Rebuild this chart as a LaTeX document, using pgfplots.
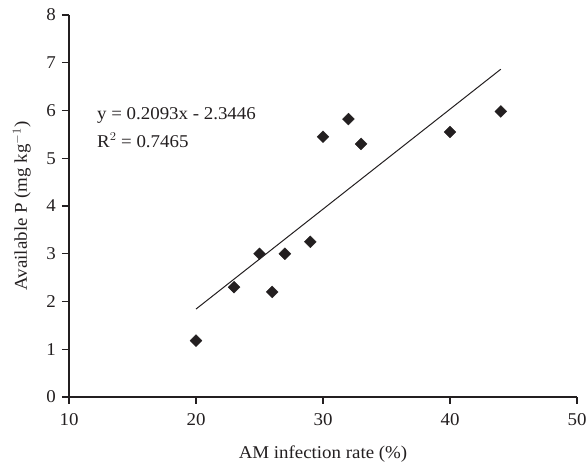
\documentclass[border=0pt]{standalone}
\usepackage{pgfplots}
\pgfplotsset{compat=1.18}
\usepackage{fontspec}
\setmainfont{Liberation Serif}
\definecolor{ink}{HTML}{231F20}
\newcommand{\lab}{\fontsize{18}{21}\selectfont}
\begin{document}
\begin{tikzpicture}
\begin{axis}[
  scale only axis,
  width=508pt, height=382pt,
  xmin=10, xmax=50, ymin=0, ymax=8,
  axis lines=left,
  axis line style={ink, line width=1.3pt, -},
  xtick={10,20,30,40,50},
  ytick={0,1,2,3,4,5,6,7,8},
  tick style={ink, line width=1.3pt},
  tick align=outside,
  major tick length=7pt,
  tick label style={font=\lab, text=ink, inner sep=0pt, xscale=1.05},
  xticklabel shift=9pt,
  yticklabel shift=6pt,
  /pgf/number format/assume math mode=true,
  xlabel={AM infection rate (\%)},
  ylabel={Available P (mg kg$^{-1}$)},
  every axis x label/.style={at={(axis description cs:0.5,-0.1623)}, anchor=base, font=\lab, text=ink, inner sep=0pt, xscale=1.05},
  every axis y label/.style={at={(axis description cs:-0.0827,0.5)}, rotate=90, xscale=1.05, anchor=base, font=\lab, text=ink, inner sep=0pt},
  clip=false,
]
\addplot[only marks, mark=square*, mark size=4.2pt, mark options={rotate=45, fill=ink, draw=ink}] coordinates {
(20,1.18) (23,2.3) (25,3.0) (26,2.2) (27,3.0) (29,3.25) (30,5.45) (32,5.82) (33,5.3) (40,5.55) (44,5.98)
};
\addplot[ink, line width=1pt] coordinates {(20,1.8414) (44,6.8646)};
\node[anchor=base west, font=\lab, text=ink, inner sep=0pt, xscale=1.05] at (axis cs:12.2,5.82) {y = 0.2093x - 2.3446};
\node[anchor=base west, font=\lab, text=ink, inner sep=0pt, xscale=1.05] at (axis cs:12.2,5.235) {R$^{2}$ = 0.7465};
\end{axis}
\pgfresetboundingbox
\path[use as bounding box] ([shift={(-69pt,-69pt)}]current axis.south west) rectangle ([shift={(9pt,15pt)}]current axis.north east);
\end{tikzpicture}
\end{document}
